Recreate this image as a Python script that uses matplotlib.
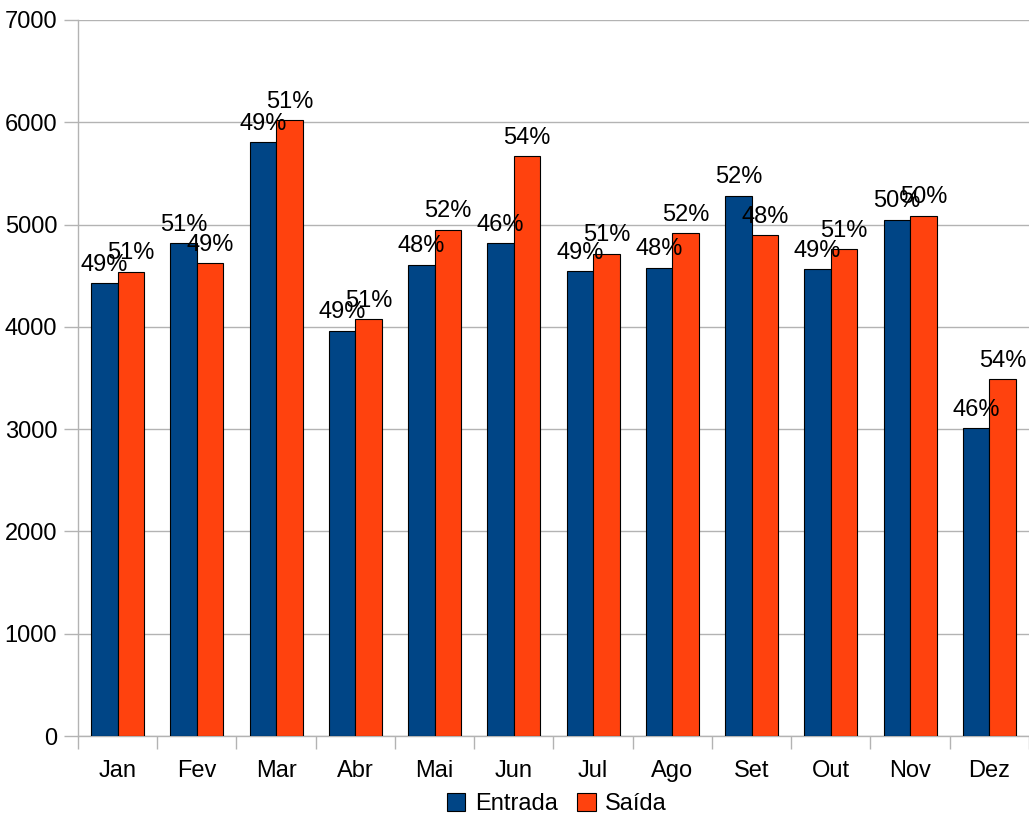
import numpy as np
import matplotlib
matplotlib.use('Agg')
import matplotlib.pyplot as plt

meses = ['Jan', 'Fev', 'Mar', 'Abr', 'Mai', 'Jun', 'Jul', 'Ago', 'Set', 'Out', 'Nov', 'Dez']
entrada = [4425, 4815, 5805, 3960, 4605, 4815, 4545, 4580, 5280, 4565, 5045, 3010]
saida = [4540, 4620, 6020, 4075, 4950, 5670, 4715, 4915, 4895, 4760, 5085, 3490]

azul = '#004586'
laranja = '#ff420e'
cinza = '#b3b3b3'

plt.rcParams['font.family'] = ['Liberation Sans', 'DejaVu Sans']
plt.rcParams['font.size'] = 17

fig = plt.figure(figsize=(10.29, 8.16), dpi=100)
ax = fig.add_axes([0.0758, 0.098, 0.9242, 0.8775])

x = np.arange(len(meses))
w = 0.335
b1 = ax.bar(x - w/2, entrada, w, color=azul, edgecolor='black', linewidth=0.8, label='Entrada', zorder=3)
b2 = ax.bar(x + w/2, saida, w, color=laranja, edgecolor='black', linewidth=0.8, label='Saída', zorder=3)

for i in range(len(meses)):
	tot = entrada[i] + saida[i]
	p1 = round(100.0 * entrada[i] / tot)
	p2 = 100 - p1
	ax.annotate('%d%%' % p1, (x[i] - w/2, entrada[i]), xytext=(0, 9), textcoords='offset points',
		ha='center', va='baseline', zorder=5)
	ax.annotate('%d%%' % p2, (x[i] + w/2, saida[i]), xytext=(0, 9), textcoords='offset points',
		ha='center', va='baseline', zorder=5)

ax.set_xlim(-0.5, len(meses) - 0.5)
ax.set_ylim(0, 7000)
ax.set_yticks(np.arange(0, 7001, 1000))
ax.yaxis.grid(True, color=cinza, linewidth=1, zorder=0)

ax.set_xticks(np.arange(len(meses) + 1) - 0.5)
ax.set_xticklabels([])
ax.set_xticks(x, minor=True)
ax.set_xticklabels(meses, minor=True)
ax.tick_params(axis='x', which='major', length=9, color=cinza, width=1)
ax.tick_params(axis='x', which='minor', length=0, pad=17)
ax.tick_params(axis='y', length=10, color=cinza, width=1, pad=5)

for s in ['top', 'right']:
	ax.spines[s].set_visible(False)
for s in ['left', 'bottom']:
	ax.spines[s].set_color(cinza)
	ax.spines[s].set_linewidth(1)

fig.legend(handles=[b1, b2], loc='center', bbox_to_anchor=(0.541, 0.015), ncol=2, frameon=False,
	handlelength=0.8, handleheight=0.8, handletextpad=0.4, columnspacing=0.8, borderaxespad=0)

fig.savefig('out.png', dpi=100)
